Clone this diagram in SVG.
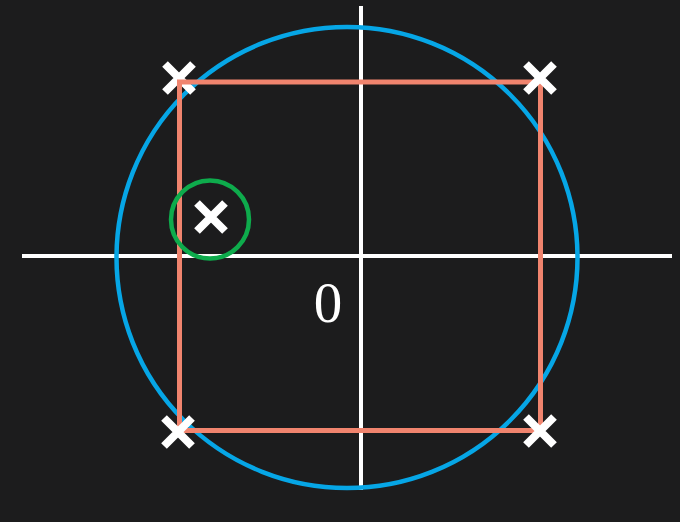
<svg xmlns="http://www.w3.org/2000/svg" width="680" height="522" viewBox="0 0 680 522">
<defs>
<style>
.axis{stroke:#ffffff;stroke-width:4;fill:none}
.x{stroke:#ffffff;stroke-width:8;stroke-linecap:butt;fill:none}
</style>
<g id="xmark"><path class="x" d="M-14,-14 L14,14 M14,-14 L-14,14"/></g>
</defs>
<rect width="680" height="522" fill="#1c1c1d"/>
<g id="connectors">
<line class="axis" x1="22" y1="256" x2="672" y2="256"/>
<line class="axis" x1="361" y1="6" x2="361" y2="490"/>
</g>
<g id="unit-circle"><circle cx="347" cy="257.5" r="230.5" fill="none" stroke="#06a6e6" stroke-width="4.5"/></g>
<g id="x-top-left"><use href="#xmark" x="179" y="78"/></g>
<g id="square"><rect x="179.5" y="82" width="361" height="348.5" fill="none" stroke="#f0846e" stroke-width="5"/></g>
<g id="x-top-right"><use href="#xmark" x="540" y="78"/></g>
<g id="x-bottom-left"><use href="#xmark" x="178" y="432"/></g>
<g id="x-bottom-right"><use href="#xmark" x="540" y="431"/></g>
<g id="x-inner"><use href="#xmark" x="211" y="217"/>
<circle cx="210" cy="219.5" r="39" fill="none" stroke="#0eab4c" stroke-width="4.5"/></g>
<g id="label-zero"><text x="328" y="322" font-family="Liberation Serif, serif" font-size="57" fill="#ffffff" text-anchor="middle">0</text></g>
</svg>
